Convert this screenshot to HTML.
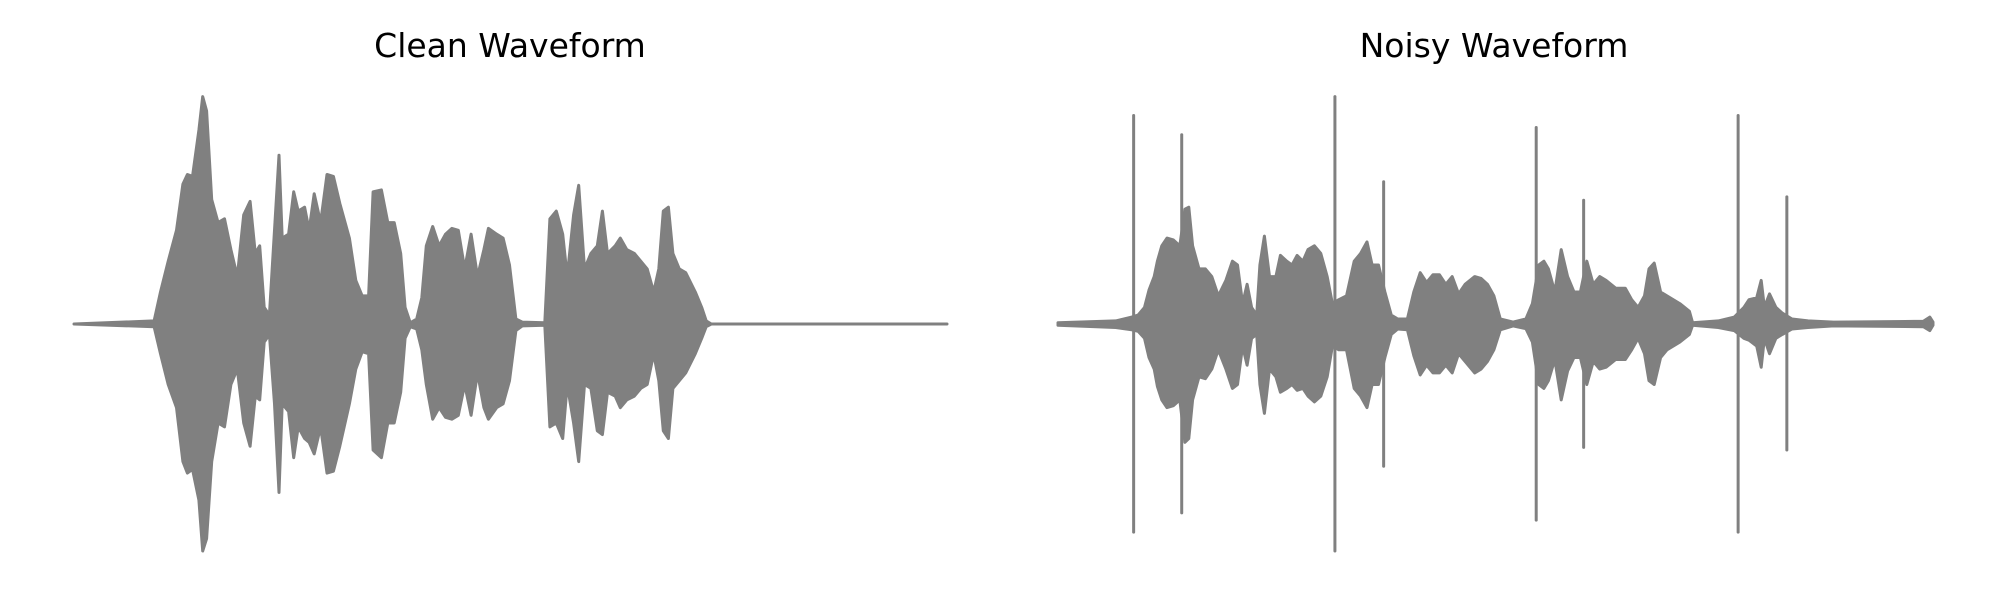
<!DOCTYPE html>
<html><head><meta charset="utf-8">
<style>
html,body{margin:0;padding:0;background:#fff;}
svg{display:block;}
text{font-family:"DejaVu Sans","Liberation Sans",sans-serif;}
</style></head>
<body>
<svg id="chart" width="2000" height="600" viewBox="0 0 2000 600">
  <text x="510" y="57" font-size="33" text-anchor="middle" fill="#000">Clean Waveform</text>
  <text x="1494" y="57" font-size="33" text-anchor="middle" fill="#000">Noisy Waveform</text>
  <g id="clean"></g>
  <g id="noisy"></g>
</svg>
<script>
// Clean waveform envelope (frame index, upper and lower amplitude)
const cleanFrames = [0,125,135,147,160,170,177,185,195,201,207,215,225,235,245,255,265,275,283,290,297,305,313,320,325,335,343,350,360,367,375,385,395,405,415,430,440,450,460,467,480,490,500,510,517,525,535,543,550,560,570,580,590,600,610,620,630,640,647,660,670,680,690,700,735,743,753,763,770,780,788,797,807,817,825,833,845,853,863,875,885,895,905,913,920,928,935,945,955,970,980,987,995,1363];
const cleanUpper = [0,8,83,163,243,363,388,383,503,590,553,323,263,273,193,123,283,318,183,203,43,23,243,438,223,233,343,293,303,243,338,263,388,383,313,223,113,73,73,343,348,263,263,183,43,3,13,68,203,253,203,233,248,243,143,233,123,193,248,233,223,153,13,5,3,273,293,233,123,283,360,143,183,203,293,183,203,223,193,183,163,143,83,143,293,303,183,143,133,83,43,8,0,0];
const cleanLower = [0,-7,-77,-157,-217,-357,-387,-377,-457,-589,-557,-357,-257,-267,-157,-117,-257,-317,-187,-197,-47,-27,-207,-437,-207,-227,-347,-267,-297,-307,-337,-267,-387,-382,-317,-207,-117,-72,-77,-327,-347,-257,-257,-177,-37,-7,-13,-67,-157,-247,-217,-242,-247,-237,-157,-237,-127,-217,-247,-217,-207,-147,-17,-5,-3,-267,-257,-297,-157,-257,-357,-157,-167,-277,-287,-177,-187,-217,-197,-187,-167,-157,-77,-147,-277,-297,-167,-147,-127,-77,-37,-7,0,0];

// Noisy waveform envelope
const noisyFrames = [0,90,115,125,135,142,150,155,162,170,180,190,198,204,210,220,230,240,250,262,272,280,288,295,302,310,315,322,330,340,347,357,365,373,382,390,400,410,420,428,438,450,462,472,482,490,500,510,520,530,545,555,565,575,585,595,605,615,625,635,650,660,670,680,690,710,730,740,750,758,765,775,785,795,805,815,825,835,845,855,870,885,895,905,915,922,930,940,950,970,985,990,1030,1055,1070,1078,1090,1097,1102,1110,1120,1130,1145,1170,1210,1350,1360,1365];
const noisyUpper = [3,8,18,23,43,88,123,163,203,223,218,203,298,303,203,143,143,123,73,113,163,153,53,103,43,23,153,228,123,123,178,163,153,178,163,193,203,183,123,53,63,73,163,183,213,153,153,83,23,13,13,83,133,108,128,128,103,123,78,103,123,118,103,73,13,5,13,53,153,163,143,83,193,123,83,83,163,103,123,113,93,93,63,43,73,143,158,83,73,53,33,3,8,18,43,63,68,113,43,78,43,28,13,8,5,7,18,5];
const noisyLower = [-3,-9,-15,-19,-37,-87,-117,-162,-197,-217,-212,-197,-307,-297,-197,-137,-142,-117,-67,-117,-167,-157,-57,-107,-37,-27,-157,-232,-117,-137,-177,-167,-157,-172,-167,-187,-202,-187,-137,-57,-67,-67,-167,-187,-217,-157,-157,-87,-27,-13,-15,-82,-132,-107,-127,-127,-107,-127,-77,-97,-127,-117,-97,-67,-15,-5,-12,-47,-157,-167,-147,-92,-197,-122,-87,-87,-157,-97,-117,-112,-92,-92,-67,-37,-77,-147,-157,-87,-67,-47,-27,-3,-9,-17,-37,-42,-57,-112,-37,-77,-37,-27,-13,-9,-5,-7,-17,-3];

// Impulse noise spikes
const spikeFrames = [118,193,432,508,746,820,1061,1137];
const spikeUpper = [541,491,590,369,510,321,541,330];
const spikeLower = [-540,-490,-589,-369,-509,-320,-540,-327];

const NS = 'http://www.w3.org/2000/svg';
const AMP_MAX = 589;
function makeX(x0, x1, fmax){ return f => x0 + f/fmax*(x1-x0); }
function makeY(base, halfPx){ return a => base - a/AMP_MAX*halfPx; }

function drawEnvelope(g, frames, up, lo, xs, ys, name){
  let pts = [];
  for(let i=0;i<frames.length;i++) pts.push(xs(frames[i]).toFixed(1)+','+ys(up[i]).toFixed(1));
  for(let i=frames.length-1;i>=0;i--) pts.push(xs(frames[i]).toFixed(1)+','+ys(lo[i]).toFixed(1));
  const p = document.createElementNS(NS,'polygon');
  p.setAttribute('points', pts.join(' '));
  p.setAttribute('fill','#808080');
  p.setAttribute('stroke','#808080');
  p.setAttribute('stroke-width','3');
  p.setAttribute('stroke-linejoin','round');
  
  
  g.appendChild(p);
}

const xC = makeX(74, 947, 1363), yC = makeY(324, 227);
drawEnvelope(document.getElementById('clean'), cleanFrames, cleanUpper, cleanLower, xC, yC, 'clean-waveform-envelope');

const xN = makeX(1058, 1933, 1365), yN = makeY(324, 227);
const gN = document.getElementById('noisy');
drawEnvelope(gN, noisyFrames, noisyUpper, noisyLower, xN, yN, 'noisy-waveform-envelope');
for(let i=0;i<spikeFrames.length;i++){
  const l = document.createElementNS(NS,'line');
  const x = xN(spikeFrames[i]);
  l.setAttribute('x1', x); l.setAttribute('x2', x);
  l.setAttribute('y1', yN(spikeUpper[i])); l.setAttribute('y2', yN(spikeLower[i]));
  l.setAttribute('stroke','#808080');
  l.setAttribute('stroke-width','3');
  l.setAttribute('stroke-linecap','round');
  
  
  gN.appendChild(l);
}
</script>
</body></html>
